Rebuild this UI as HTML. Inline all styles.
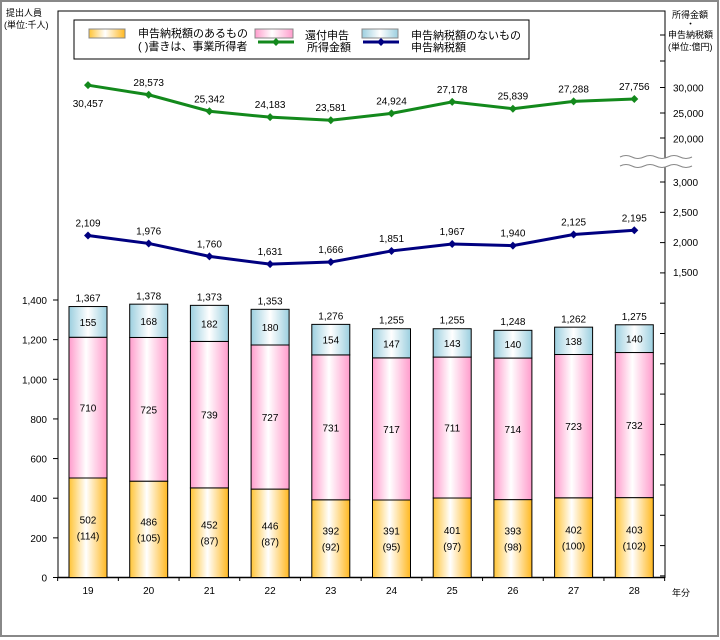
<!DOCTYPE html>
<html><head><meta charset="utf-8">
<style>
body{margin:0;background:#fff;}
svg{display:block;font-family:"Liberation Sans","Noto Sans CJK JP",sans-serif;}
</style></head>
<body>
<svg id="chart" width="720" height="640" viewBox="0 0 720 640">
<defs>
<linearGradient id="gOr" x1="0" x2="1"><stop offset="0" stop-color="#ffc436"/><stop offset="0.45" stop-color="#ffffff"/><stop offset="1" stop-color="#ffb820"/></linearGradient>
<linearGradient id="gPk" x1="0" x2="1"><stop offset="0" stop-color="#ff9ccc"/><stop offset="0.45" stop-color="#ffffff"/><stop offset="1" stop-color="#ff9ccc"/></linearGradient>
<linearGradient id="gBl" x1="0" x2="1"><stop offset="0" stop-color="#9ccfdf"/><stop offset="0.5" stop-color="#ffffff"/><stop offset="1" stop-color="#9ccfdf"/></linearGradient>
</defs>
<rect x="1" y="1" width="717" height="635" fill="#fff" stroke="#888" stroke-width="2"/>
<g id="axes"></g>
<g id="bars"></g>
<g id="lines"></g>
<g id="legend">
<rect x="74" y="20" width="455" height="39" fill="#fff" stroke="#000" stroke-width="1"/>
<rect x="89" y="29" width="36" height="9" fill="url(#gOr)" stroke="#888"/>
<text x="138" y="37" font-size="11">申告納税額のあるもの</text>
<text x="138" y="50" font-size="11">(  )書きは、事業所得者</text>
<rect x="255" y="29" width="38" height="9" fill="url(#gPk)" stroke="#888"/>
<text x="305" y="39" font-size="11">還付申告</text>
<rect x="362" y="29" width="36" height="9" fill="url(#gBl)" stroke="#888"/>
<text x="411" y="39" font-size="11">申告納税額のないもの</text>
<line x1="258" y1="42" x2="294" y2="42" stroke="#13891c" stroke-width="3"/>
<path d="M276 38 L280 42 L276 46 L272 42Z" fill="#13891c"/>
<text x="307" y="51" font-size="11">所得金額</text>
<line x1="363" y1="42" x2="399" y2="42" stroke="#000080" stroke-width="3"/>
<path d="M381 38 L385 42 L381 46 L377 42Z" fill="#000080"/>
<text x="411" y="51" font-size="11">申告納税額</text>
</g>
<text x="6" y="16" font-size="9">提出人員</text>
<text x="4" y="28" font-size="9">(単位:千人)</text>
<text x="672" y="18" font-size="9">所得金額</text>
<text x="686" y="27" font-size="9">・</text>
<text x="668" y="38" font-size="9">申告納税額</text>
<text x="668" y="50" font-size="9">(単位:億円)</text>
<text x="672" y="596" font-size="9">年分</text>
</svg>
<script>
const years=["19","20","21","22","23","24","25","26","27","28"];
const taxable=[502,486,452,446,392,391,401,393,402,403];
const business=[114,105,87,87,92,95,97,98,100,102];
const refund=[710,725,739,727,731,717,711,714,723,732];
const nontaxable=[155,168,182,180,154,147,143,140,138,140];
const totals=[1367,1378,1373,1353,1276,1255,1255,1248,1262,1275];
const income=[30457,28573,25342,24183,23581,24924,27178,25839,27288,27756];
const taxAmt=[2109,1976,1760,1631,1666,1851,1967,1940,2125,2195];
const leftTicks=[0,200,400,600,800,1000,1200,1400];
const incomeTicks=[20000,25000,30000];
const taxTicks=[1500,2000,2500,3000];

const NS="http://www.w3.org/2000/svg";
function mk(tag,attrs,parent,text){const e=document.createElementNS(NS,tag);for(const k in attrs)e.setAttribute(k,attrs[k]);if(text!==undefined)e.textContent=text;parent.appendChild(e);return e;}
const fmt=v=>v.toLocaleString("en-US");
const xC=i=>88+i*60.7;
const yL=v=>577.5-v*(277.5/1400);
const yI=v=>87.5-(v-30000)*(25.5/5000);
const yT=v=>242-(v-2000)*(30/500);
const axes=document.getElementById("axes"),bars=document.getElementById("bars"),lines=document.getElementById("lines");

let e;
e=mk("rect",{x:58,y:11,width:607,height:566.5,fill:"none",stroke:"#000","stroke-width":1},axes);


e=mk("line",{x1:58,y1:577.5,x2:665,y2:577.5,stroke:"#000","stroke-width":1.5},axes);


leftTicks.forEach(v=>{
  mk("line",{x1:53,y1:yL(v),x2:58,y2:yL(v),stroke:"#000"},axes);
  e=mk("text",{x:47,y:yL(v)+4,"font-size":10,"text-anchor":"end"},axes,fmt(v));
  
  
});
for(let i=0;i<=years.length;i++){const x=xC(i)-30.35;mk("line",{x1:x,y1:577.5,x2:x,y2:581,stroke:"#000"},axes);}
years.forEach((y,i)=>{
  e=mk("text",{x:xC(i),y:594,"font-size":10,"text-anchor":"middle"},axes,y);
  
  
});
// right axis ticks
[35,61,87.5,113,138].forEach(y=>mk("line",{x1:660,y1:y,x2:665,y2:y,stroke:"#000"},axes));
for(let y=182;y<=578;y+=30.3)mk("line",{x1:660,y1:y,x2:665,y2:y,stroke:"#000"},axes);
incomeTicks.forEach(v=>{
  e=mk("text",{x:673,y:yI(v)+4,"font-size":10},axes,fmt(v));
  
  
});
taxTicks.forEach(v=>{
  e=mk("text",{x:673,y:yT(v)+4,"font-size":10},axes,fmt(v));
  
  
});
// axis break
e=mk("path",{d:"M620 157 q6 -3 12 0 t12 0 t12 0 t12 0 t12 0 t12 0 L692 166 q-6 3 -12 0 t-12 0 t-12 0 t-12 0 t-12 0 t-12 0 Z",fill:"#fff",stroke:"none"},axes);


mk("path",{d:"M620 157 q6 -3 12 0 t12 0 t12 0 t12 0 t12 0 t12 0",fill:"none",stroke:"#888"},axes);
mk("path",{d:"M620 166 q6 -3 12 0 t12 0 t12 0 t12 0 t12 0 t12 0",fill:"none",stroke:"#888"},axes);

// bars
const bw=38;
years.forEach((yr,i)=>{
  const x=xC(i)-bw/2;
  const segs=[[0,taxable[i],"url(#gOr)","bar-taxable-"+yr],[taxable[i],taxable[i]+refund[i],"url(#gPk)","bar-refund-"+yr],[taxable[i]+refund[i],taxable[i]+refund[i]+nontaxable[i],"url(#gBl)","bar-nontaxable-"+yr]];
  segs.forEach(s=>{
    e=mk("rect",{x:x,y:yL(s[1]),width:bw,height:yL(s[0])-yL(s[1]),fill:s[2],stroke:"#000","stroke-width":1},bars);
    
    
  });
  const mid=(a,b)=>(yL(a)+yL(b))/2;
  e=mk("text",{x:xC(i),y:mid(0,taxable[i])-4,"font-size":10,"text-anchor":"middle"},bars,fmt(taxable[i]));
  
  
  e=mk("text",{x:xC(i),y:mid(0,taxable[i])+12,"font-size":10,"text-anchor":"middle"},bars,"("+business[i]+")");
  
  
  e=mk("text",{x:xC(i),y:mid(taxable[i],taxable[i]+refund[i])+4,"font-size":10,"text-anchor":"middle"},bars,fmt(refund[i]));
  
  
  e=mk("text",{x:xC(i),y:mid(taxable[i]+refund[i],taxable[i]+refund[i]+nontaxable[i])+4,"font-size":10,"text-anchor":"middle"},bars,fmt(nontaxable[i]));
  
  
  e=mk("text",{x:xC(i),y:yL(totals[i])-5,"font-size":10,"text-anchor":"middle"},bars,fmt(totals[i]));
  
  
});

// lines
function series(vals,yf,color,name,labelBelowFirst){
  e=mk("polyline",{points:vals.map((v,i)=>xC(i)+","+yf(v)).join(" "),fill:"none",stroke:color,"stroke-width":3},lines);
  
  
  vals.forEach((v,i)=>{
    const x=xC(i),y=yf(v);
    e=mk("path",{d:`M${x} ${y-4} L${x+4} ${y} L${x} ${y+4} L${x-4} ${y}Z`,fill:color},lines);
    
    
    const below=labelBelowFirst&&i===0;
    e=mk("text",{x:x,y:below?y+22:y-9,"font-size":10,"text-anchor":"middle"},lines,fmt(v));
    
    
  });
}
series(income,yI,"#13891c","income",true);
series(taxAmt,yT,"#000080","tax",false);
</script>
</body></html>
